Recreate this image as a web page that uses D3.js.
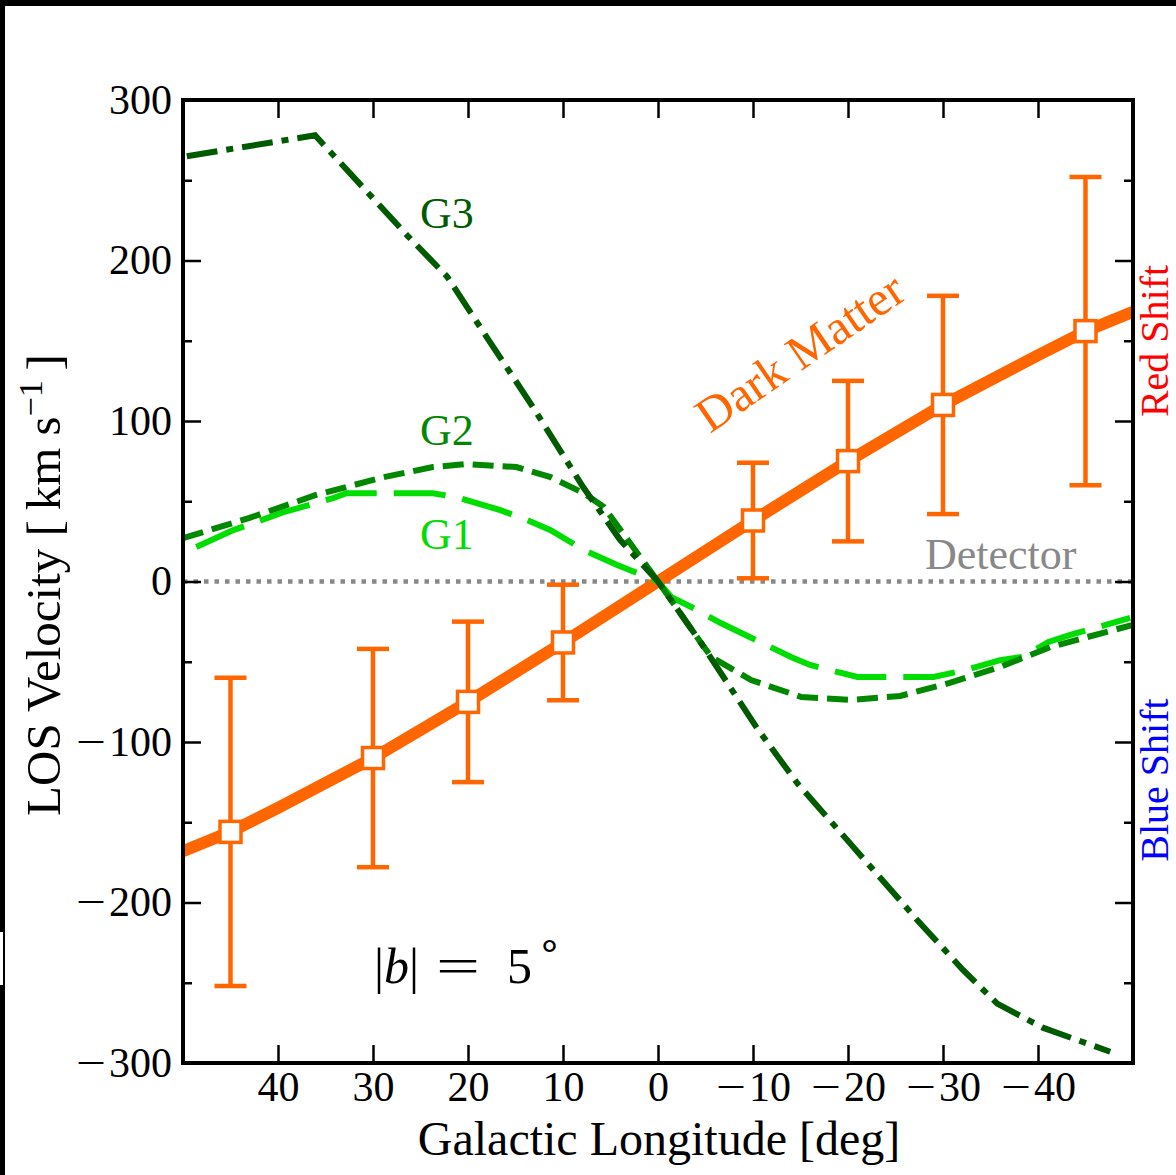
<!DOCTYPE html>
<html>
<head>
<meta charset="utf-8">
<script src="https://cdn.jsdelivr.net/npm/d3@7"></script>
<style>
  html, body { margin: 0; padding: 0; background: #fff; }
  svg { display: block; }
  text { font-family: "Liberation Serif", "Times New Roman", serif; }
</style>
</head>
<body>
<svg id="chart" width="1176" height="1175"></svg>
<script>
// Galactic longitude (deg) of the dark-matter sample points and their LOS velocity (km/s)
const dmLon = [45, 30, 20, 10, -10, -20, -30, -45];
const dmVel = [-156, -110, -75, -38, 38, 75, 110, 156];
const dmErr = [96, 68, 50, 36, 36, 50, 68, 96];

// Dark-matter velocity curve across the full longitude range
const dmCurveLon = [50, 45, 40, 30, 20, 10, 0, -10, -20, -30, -40, -45, -50];
const dmCurveVel = [-168, -156, -141, -110, -75, -38, 0, 38, 75, 110, 141, 156, 168];

// Gas components
const g1Lon = [48.6, 44.7, 39.5, 34.2, 32.8, 28.9, 23.7, 21.2, 16.6, 13.8, 11.3, 7.8, 4.3, 0,
               -1.4, -3.5, -6.6, -14, -16, -21, -29, -32.5, -36, -38.4, -41.1, -43.4, -49.7];
const g1Vel = [21.5, 32, 43, 52, 55, 55, 55, 52.5, 44.5, 38.3, 32, 19.6, 10.3, 0,
               -9.7, -15.9, -25.9, -47, -52, -59.5, -59.5, -55, -49, -47, -37.7, -33.3, -22.7];

const g2Lon = [50, 43, 36, 28.9, 23.7, 20.2, 14.9, 11.3, 7.8, 5.7, 0,
               -4.5, -5.6, -9.8, -15.1, -20.2, -25.5, -30.7, -36, -41.3, -50];
const g2Vel = [27, 39.6, 53.9, 65, 71.3, 73.2, 71.3, 65, 55, 46.4, 0,
               -38, -47, -61.4, -72, -73.8, -71.3, -63.2, -53.3, -40.8, -27];

const g3Lon = [49.6, 36.1, 26.3, 22.2, 18, 13.2, 7.9, 4, 0,
               -4.5, -10.5, -14.7, -20.2, -27.3, -32.1, -35.7, -40.5, -47.6];
const g3Vel = [265, 278, 215, 190, 152, 109, 59, 26, 0,
               -38, -92, -126, -163, -211, -242, -263, -278, -293];

// Axis ticks
const xTicks = [40, 30, 20, 10, 0, -10, -20, -30, -40];
const yTicks = [-300, -200, -100, 0, 100, 200, 300];
const yMinorTicks = [-250, -150, -50, 50, 150, 250];

const svg = d3.select("#chart");
const W = 1176, H = 1175;
const pL = 183, pR = 1133, pT = 100, pB = 1063;

const x = d3.scaleLinear().domain([50, -50]).range([pL, pR]);
const y = d3.scaleLinear().domain([-300, 300]).range([pB, pT]);

const fmt = d3.format("d");

// frame bars along the top and left edges
svg.append("rect").attr("x", 0).attr("y", 0).attr("width", W).attr("height", 6).attr("fill", "#000");
svg.append("rect").attr("x", 0).attr("y", 0).attr("width", 5).attr("height", H).attr("fill", "#000");
svg.append("rect").attr("x", 0).attr("y", 932).attr("width", 3).attr("height", 53).attr("fill", "#fff");

svg.append("defs").append("clipPath").attr("id", "plotClip")
  .append("rect").attr("x", pL).attr("y", pT).attr("width", pR - pL).attr("height", pB - pT);

const plot = svg.append("g").attr("clip-path", "url(#plotClip)");

// Detector reference line at zero velocity
plot.append("line")
  .attr("x1", x(50)).attr("x2", x(-50))
  .attr("y1", y(0)).attr("y2", y(0))
  .attr("stroke", "#888888").attr("stroke-width", 4.5)
  .attr("stroke-dasharray", "4.5,6");

// Dark matter curve
const dmLine = d3.line().x(d => x(d[0])).y(d => y(d[1]));
plot.append("path")
  .datum(d3.zip(dmCurveLon, dmCurveVel))
  .attr("d", dmLine)
  .attr("fill", "none").attr("stroke", "#ff6600").attr("stroke-width", 12);

// Error bars
const eb = plot.append("g").attr("stroke", "#ff6600").attr("stroke-width", 4.5);
dmLon.forEach((l, i) => {
  const lo = dmVel[i] - dmErr[i], hi = dmVel[i] + dmErr[i];
  eb.append("line").attr("x1", x(l)).attr("x2", x(l)).attr("y1", y(lo)).attr("y2", y(hi));
  eb.append("line").attr("x1", x(l) - 16).attr("x2", x(l) + 16).attr("y1", y(lo)).attr("y2", y(lo));
  eb.append("line").attr("x1", x(l) - 16).attr("x2", x(l) + 16).attr("y1", y(hi)).attr("y2", y(hi));
});

// Square markers
plot.selectAll("rect.marker")
  .data(d3.zip(dmLon, dmVel))
  .join("rect")
  .attr("class", "marker")
  .attr("x", d => x(d[0]) - 10.5).attr("y", d => y(d[1]) - 10.5)
  .attr("width", 21).attr("height", 21)
  .attr("fill", "#fff").attr("stroke", "#ff6600").attr("stroke-width", 3.5);

// Gas curves
const gLine = d3.line().x(d => x(d[0])).y(d => y(d[1]));
plot.append("path")
  .datum(d3.zip(g1Lon, g1Vel))
  .attr("d", gLine)
  .attr("fill", "none").attr("stroke", "#00dd00").attr("stroke-width", 6)
  .attr("stroke-dasharray", "52,17");
plot.append("path")
  .datum(d3.zip(g2Lon, g2Vel))
  .attr("d", gLine)
  .attr("fill", "none").attr("stroke", "#008800").attr("stroke-width", 6)
  .attr("stroke-dasharray", "21,9");
plot.append("path")
  .datum(d3.zip(g3Lon, g3Vel))
  .attr("d", gLine)
  .attr("fill", "none").attr("stroke", "#005a00").attr("stroke-width", 6)
  .attr("stroke-dasharray", "31,9,7,9");

// Axes: inward ticks on all four sides
function styleAxis(g) {
  g.select(".domain").remove();
  g.selectAll(".tick line").attr("stroke", "#000").attr("stroke-width", 2.5);
  g.selectAll(".tick text")
    .attr("fill", "#000")
    .style("font-family", "'Liberation Serif', serif")
    .style("font-size", "42px")
    .each(function () {
      // widen the minus sign to a math-style minus
      const t = d3.select(this);
      const s = t.text();
      if (s.startsWith("\u2212")) {
        t.text(null);
        t.append("tspan").attr("textLength", 30).attr("lengthAdjust", "spacingAndGlyphs").text("\u2212");
        t.append("tspan").attr("dx", 3).text(s.slice(1));
      }
    });
}

svg.append("g").attr("transform", `translate(0,${pB})`)
  .call(d3.axisBottom(x).tickValues(xTicks).tickSize(-18).tickPadding(8).tickFormat(fmt))
  .call(styleAxis);
svg.append("g").attr("transform", `translate(0,${pT})`)
  .call(d3.axisTop(x).tickValues(xTicks).tickSize(-18).tickFormat(""))
  .call(styleAxis);
svg.append("g").attr("transform", `translate(${pL},0)`)
  .call(d3.axisLeft(y).tickValues(yTicks).tickSize(-18).tickPadding(11).tickFormat(fmt))
  .call(styleAxis);
svg.append("g").attr("transform", `translate(${pL},0)`)
  .call(d3.axisLeft(y).tickValues(yMinorTicks).tickSize(-9).tickFormat(""))
  .call(styleAxis);
svg.append("g").attr("transform", `translate(${pR},0)`)
  .call(d3.axisRight(y).tickValues(yTicks).tickSize(-18).tickFormat(""))
  .call(styleAxis);
svg.append("g").attr("transform", `translate(${pR},0)`)
  .call(d3.axisRight(y).tickValues(yMinorTicks).tickSize(-9).tickFormat(""))
  .call(styleAxis);

// plot frame
svg.append("rect")
  .attr("x", pL).attr("y", pT).attr("width", pR - pL).attr("height", pB - pT)
  .attr("fill", "none").attr("stroke", "#000").attr("stroke-width", 4);

// Axis titles
svg.append("text")
  .attr("x", 659).attr("y", 1155)
  .attr("text-anchor", "middle").style("font-size", "48px").attr("fill", "#000")
  .text("Galactic Longitude [deg]");

const yt = svg.append("text")
  .attr("transform", "translate(60,585) rotate(-90)")
  .attr("text-anchor", "middle").style("font-size", "49px").attr("fill", "#000");
yt.append("tspan").text("LOS Velocity [\u2009km s");
yt.append("tspan").attr("dy", -18).style("font-size", "34px").text("\u22121");
yt.append("tspan").attr("dy", 18).text("\u2009]");

// Shift labels on the right edge
svg.append("text")
  .attr("transform", "translate(1168,341) rotate(-90)")
  .attr("text-anchor", "middle").style("font-size", "40px").attr("fill", "#ff0000")
  .text("Red Shift");
svg.append("text")
  .attr("transform", "translate(1168,780) rotate(-90)")
  .attr("text-anchor", "middle").style("font-size", "40px").attr("fill", "#0000ff")
  .text("Blue Shift");

// Curve labels
svg.append("text").attr("x", 420).attr("y", 228).style("font-size", "44px").attr("fill", "#005a00").text("G3");
svg.append("text").attr("x", 420).attr("y", 445).style("font-size", "44px").attr("fill", "#008800").text("G2");
svg.append("text").attr("x", 420).attr("y", 549).style("font-size", "44px").attr("fill", "#00dd00").text("G1");
svg.append("text").attr("x", 925).attr("y", 569).style("font-size", "44px").attr("fill", "#888888").text("Detector");
svg.append("text")
  .attr("transform", "translate(710,434) rotate(-34.5)")
  .style("font-size", "49px").attr("fill", "#ff6600").text("Dark Matter");

// Latitude annotation
const bt = svg.append("text").attr("y", 983).style("font-size", "50px").attr("fill", "#000");
bt.append("tspan").attr("x", 374).text("|");
bt.append("tspan").style("font-style", "italic").text("b");
bt.append("tspan").text("|");
bt.append("tspan").attr("x", 436).attr("textLength", 44).attr("lengthAdjust", "spacingAndGlyphs").text("=");
bt.append("tspan").attr("x", 507).text("5");
bt.append("tspan").attr("x", 537).attr("dy", -24).style("font-size", "40px").text("\u2218");
</script>
</body>
</html>
